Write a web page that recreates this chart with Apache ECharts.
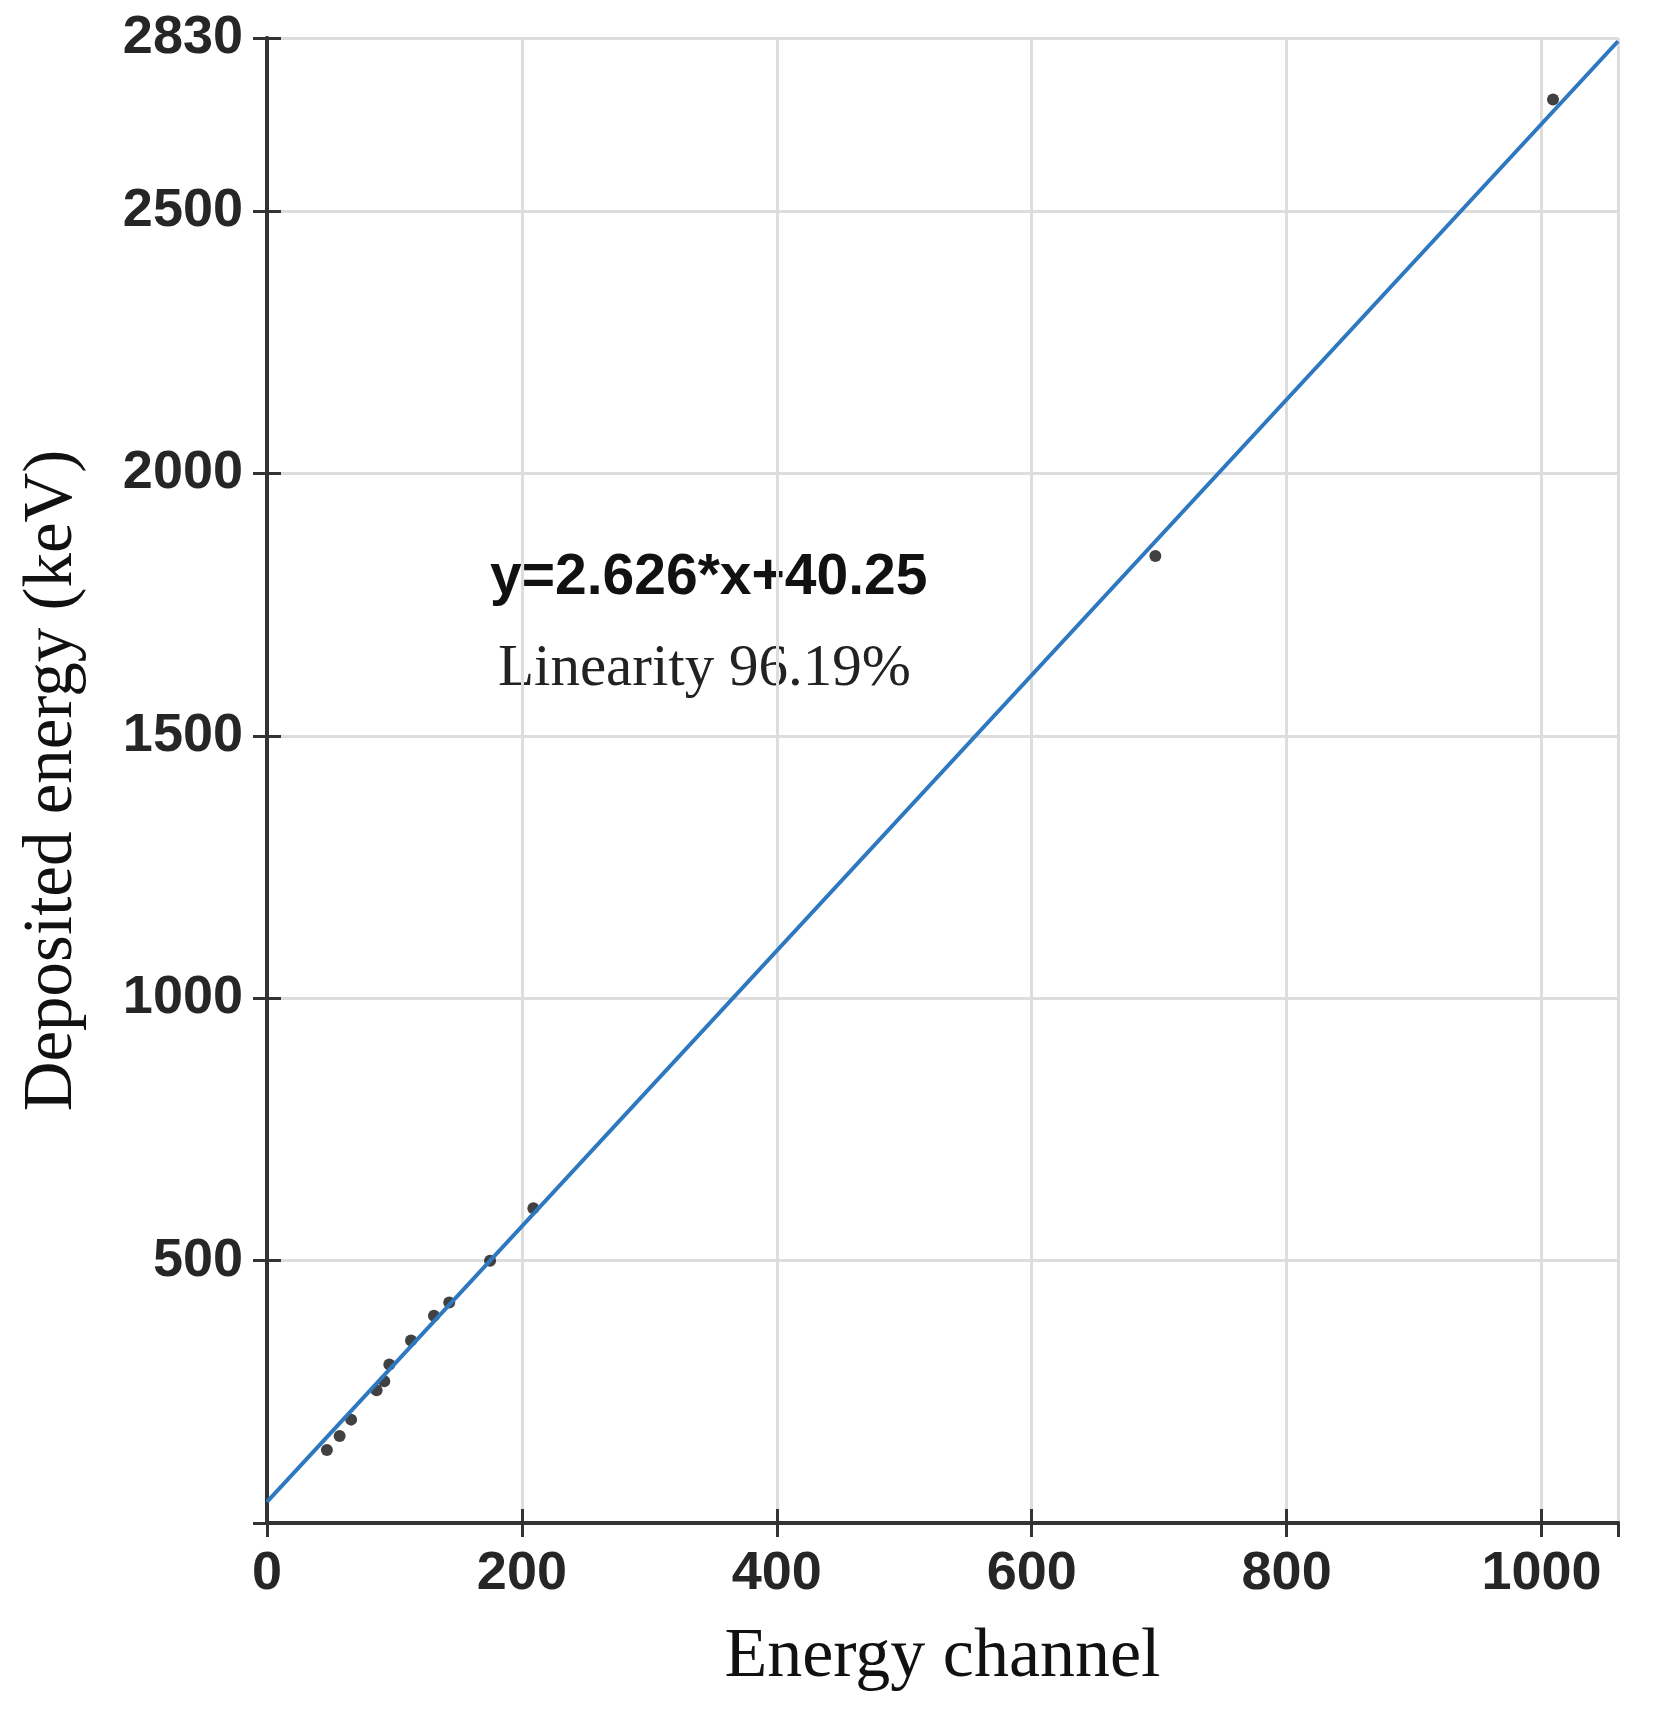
<!DOCTYPE html>
<html>
<head>
<meta charset="utf-8">
<script src="https://cdn.jsdelivr.net/npm/echarts@6/dist/echarts.min.js"></script>
<style>
  html, body { margin: 0; padding: 0; background: #fff; }
  #chart { width: 1659px; height: 1719px; }
</style>
</head>
<body>
<div id="chart"></div>
<script>
"use strict";

// measured points (energy channel, deposited energy keV)
const channels = [47, 57, 66, 86, 92, 96, 113, 131, 143, 175, 209, 697, 1009];
const energies = [139, 166, 197, 253, 270, 302, 348, 395, 420, 500, 600, 1843, 2713];
// linear fit y = 2.626*x + 40.25, drawn between its two end points
const fit_x = [0, 1060];
const fit_y = [40.25, 2823.81];

const points = channels.map((c, i) => [c, energies[i]]);
const fit_line = fit_x.map((x, i) => [x, fit_y[i]]);

const chart = echarts.init(document.getElementById("chart"));

const axis_line = { show: true, lineStyle: { color: "#333", width: 4 } };
const tick_in = { show: true, inside: true, length: 14, lineStyle: { color: "#333", width: 3 } };
const tick_font = { color: "#262626", fontSize: 54, fontWeight: "bold", fontFamily: "Liberation Sans, Arial" };

chart.setOption({
  animation: false,
  grid: { left: 267, right: 41, top: 38, bottom: 196, containLabel: false },
  xAxis: [
    {
      type: "value", min: 0, max: 1060, interval: 200,
      name: "Energy channel", nameLocation: "middle", nameGap: 100,
      nameTextStyle: { fontFamily: "Liberation Serif, Times New Roman", fontSize: 70, color: "#111" },
      axisLine: axis_line, axisTick: tick_in,
      axisLabel: { ...tick_font, margin: 24, showMaxLabel: false, formatter: (v) => String(v) },
      splitLine: { show: true, lineStyle: { color: "#ddd", width: 3 } },
    },
    {
      type: "value", min: 0, max: 1060, interval: 200, position: "top",
      axisLine: axis_line, axisTick: tick_in, axisLabel: { show: false }, splitLine: { show: false },
    },
  ],
  yAxis: [
    {
      type: "value", min: 0, max: 2830, interval: 500,
      name: "Deposited energy (keV)", nameLocation: "middle", nameGap: 180,
      nameTextStyle: { fontFamily: "Liberation Serif, Times New Roman", fontSize: 69, color: "#111" },
      axisLine: axis_line, axisTick: tick_in,
      axisLabel: {
        ...tick_font, margin: 24,
        formatter: (v) => (v > 0 ? String(v) : ""),
      },
      splitLine: { show: true, lineStyle: { color: "#ddd", width: 3 } },
    },
    {
      type: "value", min: 0, max: 2830, interval: 500, position: "right",
      axisLine: axis_line, axisTick: tick_in, axisLabel: { show: false }, splitLine: { show: false },
    },
  ],
  series: [
    {
      type: "line", data: fit_line, showSymbol: false, silent: true,
      lineStyle: { color: "#2e78c0", width: 4 },
    },
    {
      type: "scatter", data: points, symbol: "circle", symbolSize: 12,
      itemStyle: { color: "#111" },
    },
  ],
  graphic: [
    {
      type: "text", left: 490, top: 550,
      style: { text: "y=2.626*x+40.25", font: "bold 57px Liberation Sans, Arial", fill: "#111" },
    },
    {
      type: "text", left: 498, top: 640,
      style: { text: "Linearity 96.19%", font: "59px Liberation Serif, Times New Roman", fill: "#222" },
    },
  ],
});
</script>
</body>
</html>
